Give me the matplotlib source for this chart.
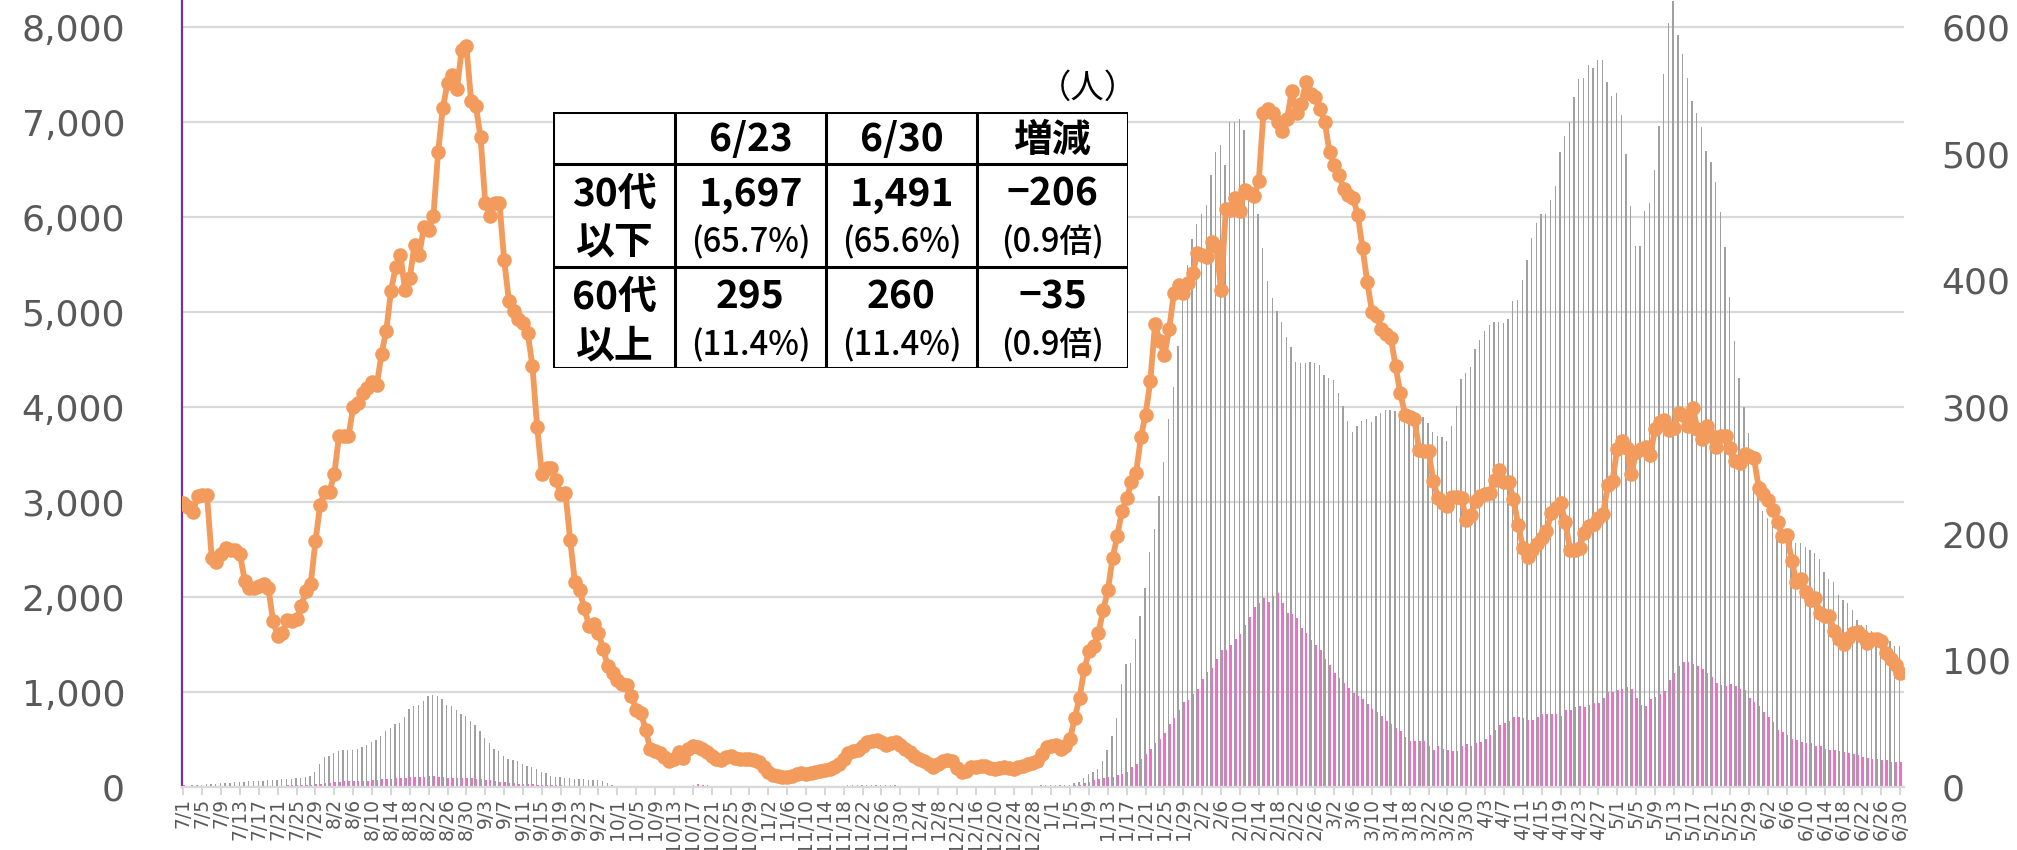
import numpy as np
import pandas as pd
import matplotlib.pyplot as plt
from matplotlib.ticker import FuncFormatter

# daily values 2021/7/1 - 2022/6/30 (left axis units)
line_vals = [
    2990, 2950, 2890, 3060, 3070, 3070, 2410, 2370, 2450, 2520,
    2490, 2490, 2450, 2170, 2090, 2090, 2120, 2140, 2100, 1750,
    1590, 1620, 1760, 1750, 1770, 1910, 2060, 2140, 2590, 2970,
    3110, 3110, 3300, 3700, 3700, 3690, 4000, 4040, 4150, 4200,
    4260, 4230, 4560, 4800, 5220, 5470, 5600, 5230, 5360, 5710,
    5600, 5900, 5860, 6010, 6680, 7150, 7410, 7490, 7350, 7760,
    7800, 7220, 7170, 6840, 6150, 6010, 6150, 6150, 5550, 5120,
    5010, 4930, 4880, 4780, 4430, 3790, 3290, 3360, 3360, 3230,
    3080, 3100, 2600, 2160, 2070, 1880, 1700, 1720, 1620, 1450,
    1270, 1200, 1130, 1080, 1070, 960, 810, 780, 600, 400,
    380, 360, 320, 270, 300, 370, 310, 400, 430, 420,
    400, 370, 330, 300, 280, 320, 330, 310, 300, 300,
    290, 280, 260, 210, 160, 130, 120, 110, 110, 120,
    140, 145, 140, 150, 160, 170, 180, 190, 210, 240,
    300, 360, 380, 390, 430, 470, 480, 500, 470, 440,
    460, 470, 440, 400, 370, 330, 300, 270, 240, 215,
    240, 270, 280, 270, 200, 160, 170, 210, 215, 220,
    225, 200, 190, 200, 215, 200, 190, 210, 225, 240,
    255, 270, 350, 420, 430, 440, 400, 430, 510, 730,
    940, 1240, 1430, 1480, 1620, 1860, 2070, 2410, 2640, 2910,
    3040, 3210, 3310, 3680, 3920, 4270, 4870, 4690, 4550, 4820,
    5200, 5280, 5200, 5310, 5410, 5620, 5600, 5580, 5740, 5700,
    5230, 6080, 6070, 6200, 6060, 6280, 6250, 6220, 6380, 7100,
    7140, 7100, 7000, 6910, 7030, 7330, 7090, 7190, 7420, 7300,
    7260, 7140, 7000, 6680, 6550, 6440, 6300, 6230, 6200, 6020,
    5670, 5320, 5000, 4960, 4820, 4770, 4730, 4430, 4150, 3920,
    3890, 3870, 3550, 3540, 3540, 3220, 3040, 2990, 2960, 3050,
    3050, 3040, 2810, 2860, 3010, 3060, 3080, 3100, 3230, 3340,
    3210, 3210, 3030, 2760, 2520, 2420, 2490, 2560, 2620, 2690,
    2880, 2940, 2990, 2790, 2490, 2490, 2520, 2670, 2750, 2770,
    2830, 2870, 3180, 3220, 3560, 3640, 3570, 3290, 3530, 3560,
    3580, 3490, 3770, 3840, 3860, 3760, 3780, 3940, 3920, 3800,
    3990, 3770, 3660, 3800, 3700, 3580, 3690, 3690, 3570, 3430,
    3410, 3510, 3480, 3460, 3150, 3080, 3020, 2920, 2790, 2640,
    2650, 2380, 2160, 2190, 2050, 1970, 1990, 1830, 1800, 1800,
    1640, 1560, 1510, 1570, 1620, 1630, 1590, 1520, 1560, 1560,
    1540, 1410, 1350, 1280, 1200,
]

gray_vals = [
    15, 15, 20, 25, 25, 30, 35, 35, 40, 45,
    45, 50, 55, 55, 60, 60, 65, 65, 70, 70,
    75, 80, 80, 85, 90, 100, 110, 120, 160, 240,
    320, 330, 360, 380, 390, 390, 390, 400, 420, 440,
    470, 500, 540, 590, 620, 660, 670, 740, 820, 850,
    860, 910, 960, 970, 960, 930, 860, 850, 810, 770,
    750, 700, 650, 590, 520, 460, 400, 380, 330, 300,
    280, 270, 240, 225, 215, 190, 160, 150, 120, 110,
    110, 100, 90, 85, 85, 85, 75, 75, 70, 65,
    45, 25, 15, 12, 10, 10, 10, 8, 8, 8,
    8, 8, 8, 8, 8, 10, 10, 10, 12, 12,
    12, 10, 10, 10, 8, 8, 8, 8, 8, 8,
    8, 8, 8, 6, 6, 6, 6, 6, 8, 8,
    8, 8, 10, 10, 10, 10, 12, 12, 15, 15,
    15, 18, 18, 20, 20, 20, 20, 20, 18, 18,
    18, 18, 15, 15, 15, 12, 12, 12, 10, 10,
    10, 10, 10, 10, 10, 10, 10, 10, 10, 10,
    10, 10, 12, 12, 12, 12, 12, 15, 15, 15,
    15, 15, 18, 18, 18, 20, 20, 22, 25, 40,
    55, 90, 135, 160, 190, 270, 390, 540, 730, 1080,
    1290, 1310, 1560, 1800, 2090, 2470, 2720, 3060, 3420, 3870,
    4210, 4640, 5170, 5500, 5770, 5930, 6030, 6130, 6440, 6680,
    6760, 6550, 7000, 7000, 7030, 6920, 6330, 6280, 6030, 5670,
    5330, 5150, 5010, 4900, 4740, 4630, 4470, 4460, 4460, 4470,
    4460, 4440, 4340, 4310, 4280, 4150, 4010, 3850, 3740, 3800,
    3850, 3870, 3840, 3910, 3940, 3970, 3970, 3960, 3940, 3930,
    3960, 3930, 3930, 3890, 3830, 3740, 3690, 3680, 3640, 3800,
    4010, 4300, 4360, 4420, 4610, 4710, 4800, 4860, 4890, 4890,
    4880, 4930, 5120, 5130, 5340, 5550, 5780, 5940, 6030, 6030,
    6180, 6330, 6680, 6850, 7000, 7260, 7450, 7460, 7600, 7570,
    7650, 7650, 7420, 7270, 7310, 7070, 6660, 6120, 5690, 5690,
    6060, 6150, 6490, 6960, 7510, 8040, 8270, 7920, 7720, 7460,
    7220, 7100, 6950, 6700, 6580, 6370, 6050, 5680, 5160, 4690,
    4310, 4000, 3730, 3150, 3070, 2910, 2830, 2750, 2670, 2640,
    2600, 2590, 2570, 2570, 2530, 2490, 2460, 2400, 2260, 2190,
    2160, 2020, 1970, 1940, 1860, 1760, 1710, 1710, 1640, 1620,
    1590, 1520, 1540, 1480, 1480,
]

pink_vals = [
    20, 15, 15, 15, 15, 15, 15, 15, 15, 15,
    15, 15, 15, 15, 15, 15, 15, 15, 15, 15,
    15, 15, 20, 20, 20, 20, 20, 25, 30, 35,
    40, 45, 50, 55, 60, 60, 60, 60, 65, 65,
    70, 75, 80, 80, 85, 90, 95, 100, 105, 110,
    110, 110, 115, 115, 110, 105, 100, 100, 100, 95,
    95, 90, 85, 80, 75, 70, 60, 55, 50, 45,
    40, 35, 35, 30, 30, 25, 25, 20, 20, 20,
    20, 15, 15, 15, 15, 15, 15, 10, 10, 10,
    10, 10, 5, 5, 5, 5, 5, 5, 5, 5,
    5, 5, 5, 5, 5, 5, 10, 15, 25, 30,
    25, 20, 10, 5, 5, 5, 5, 5, 5, 5,
    5, 5, 5, 3, 3, 3, 3, 3, 3, 3,
    3, 3, 3, 3, 3, 3, 5, 5, 5, 5,
    5, 5, 5, 5, 5, 5, 5, 5, 5, 5,
    5, 5, 5, 5, 5, 3, 3, 3, 3, 3,
    3, 3, 3, 3, 3, 3, 3, 3, 3, 3,
    3, 3, 3, 3, 3, 3, 3, 5, 5, 5,
    5, 5, 5, 5, 5, 5, 8, 10, 12, 18,
    25, 40, 55, 70, 80, 95, 110, 110, 125, 135,
    160, 215, 240, 300, 350, 400, 460, 510, 570, 660,
    730, 810, 890, 920, 980, 1030, 1140, 1210, 1250, 1350,
    1440, 1440, 1500, 1560, 1610, 1710, 1790, 1890, 1940, 1990,
    1950, 2010, 2040, 1940, 1830, 1820, 1780, 1670, 1620, 1550,
    1500, 1440, 1350, 1280, 1200, 1150, 1090, 1040, 990, 960,
    930, 870, 820, 790, 750, 700, 660, 620, 590, 530,
    480, 480, 480, 480, 430, 390, 430, 400, 390, 380,
    380, 430, 450, 430, 460, 470, 510, 550, 600, 650,
    670, 700, 740, 740, 730, 710, 710, 740, 770, 770,
    770, 770, 750, 810, 810, 840, 850, 840, 860, 880,
    880, 940, 1000, 1000, 1020, 1030, 1050, 1030, 940, 860,
    850, 930, 950, 980, 1010, 1130, 1200, 1270, 1320, 1320,
    1300, 1270, 1240, 1200, 1160, 1090, 1070, 1060, 1080, 1060,
    1030, 1020, 940, 900, 850, 790, 740, 680, 600, 580,
    550, 510, 500, 470, 460, 460, 430, 430, 400, 390,
    390, 380, 370, 360, 350, 340, 320, 310, 290, 290,
    280, 280, 260, 260, 260,
]

dates = pd.date_range("2021-07-01", "2022-06-30", freq="D")
tick_pos = list(range(0, len(dates), 4))
tick_labels = [f"{dates[i].month}/{dates[i].day}" for i in tick_pos]

col_heads = ["", "6/23", "6/30", "増減"]
row_heads = ["30代\n以下", "60代\n以上"]
row_main = [["1,697", "1,491", "−206"], ["295", "260", "−35"]]
row_sub = [["(65.7%)", "(65.6%)", "(0.9倍)"], ["(11.4%)", "(11.4%)", "(0.9倍)"]]

GRAY_TXT = "#595959"
x = np.arange(len(dates))

fig = plt.figure(figsize=(20.17, 8.5), dpi=100)
ax = fig.add_axes([182 / 2017, 63 / 850, 1722 / 2017, 785.6 / 850])

ax.bar(x - 0.15, gray_vals, width=0.28, color="#a0a0a0", linewidth=0, zorder=2)
ax.bar(x + 0.15, pink_vals, width=0.32, color="#ee6fc6", linewidth=0, zorder=2)
ax.plot(x, line_vals, color="#f29b5c", lw=4.2, marker="o", ms=10.5,
        markeredgewidth=0, zorder=4)

ax.set_xlim(-0.3, 364.8)
ax.set_ylim(0, 8270)
ax.set_yticks(range(0, 8001, 1000))
ax.yaxis.set_major_formatter(FuncFormatter(lambda v, p: f"{int(v):,}"))
ax.yaxis.grid(True, color="#d9d9d9", lw=1.6)
ax.set_axisbelow(True)
ax.tick_params(axis="y", length=0, pad=41, labelsize=26, labelcolor=GRAY_TXT)

ax.set_xticks(tick_pos)
ax.set_xticklabels(tick_labels, rotation=90, fontsize=13.5, color=GRAY_TXT)
ax.tick_params(axis="x", length=6, width=1.2, color="#d0d0d0", pad=2)

for s in ["top", "right"]:
    ax.spines[s].set_visible(False)
ax.spines["left"].set_color("#7030a0")
ax.spines["left"].set_linewidth(1.6)
ax.spines["bottom"].set_color("#d9d9d9")
ax.spines["bottom"].set_linewidth(1.6)

sec = ax.secondary_yaxis("right", functions=(lambda v: v * 0.075, lambda v: v / 0.075))
sec.set_yticks(range(0, 601, 100))
sec.tick_params(length=0, pad=27, labelsize=26, labelcolor=GRAY_TXT)
sec.spines["right"].set_visible(False)

# summary table
jp = ["Noto Sans CJK JP", "DejaVu Sans"]
L, R, T, B = 553, 1128, 112, 368
tab = fig.add_axes([L / 2017, 1 - B / 850, (R - L) / 2017, (B - T) / 850])
tab.set_xlim(L, R)
tab.set_ylim(B, T)
tab.axis("off")
tab.add_patch(plt.Rectangle((L, T), R - L, B - T, facecolor="white", edgecolor="none"))
cols = [553, 675, 826, 977, 1128]
rows = [112, 164, 267, 368]
for cx in cols:
    tab.plot([cx, cx], [T, B], color="black", lw=2.2, solid_capstyle="projecting")
for ry in rows:
    tab.plot([L, R], [ry, ry], color="black", lw=2.2, solid_capstyle="projecting")

for j, h in enumerate(col_heads):
    if h:
        tab.text((cols[j] + cols[j + 1]) / 2, 140, h, ha="center", va="center",
                 fontsize=28, fontweight="bold", family=jp)
for i in range(2):
    top_y = rows[i + 1] + 30
    bot_y = rows[i + 1] + 79
    lab1, lab2 = row_heads[i].split("\n")
    cx0 = (cols[0] + cols[1]) / 2
    tab.text(cx0, top_y, lab1, ha="center", va="center", fontsize=28,
             fontweight="bold", family=jp)
    tab.text(cx0, bot_y, lab2, ha="center", va="center", fontsize=28,
             fontweight="bold", family=jp)
    for j in range(3):
        cx = (cols[j + 1] + cols[j + 2]) / 2
        tab.text(cx, top_y, row_main[i][j], ha="center", va="center",
                 fontsize=28, fontweight="bold", family=jp)
        tab.text(cx, bot_y, row_sub[i][j], ha="center", va="center",
                 fontsize=23.5, fontweight="medium", family=jp)

fig.text(1138 / 2017, 1 - 88 / 850, "（人）", ha="right", va="center",
         fontsize=24, family=jp)

fig.savefig("out.png", dpi=100)
